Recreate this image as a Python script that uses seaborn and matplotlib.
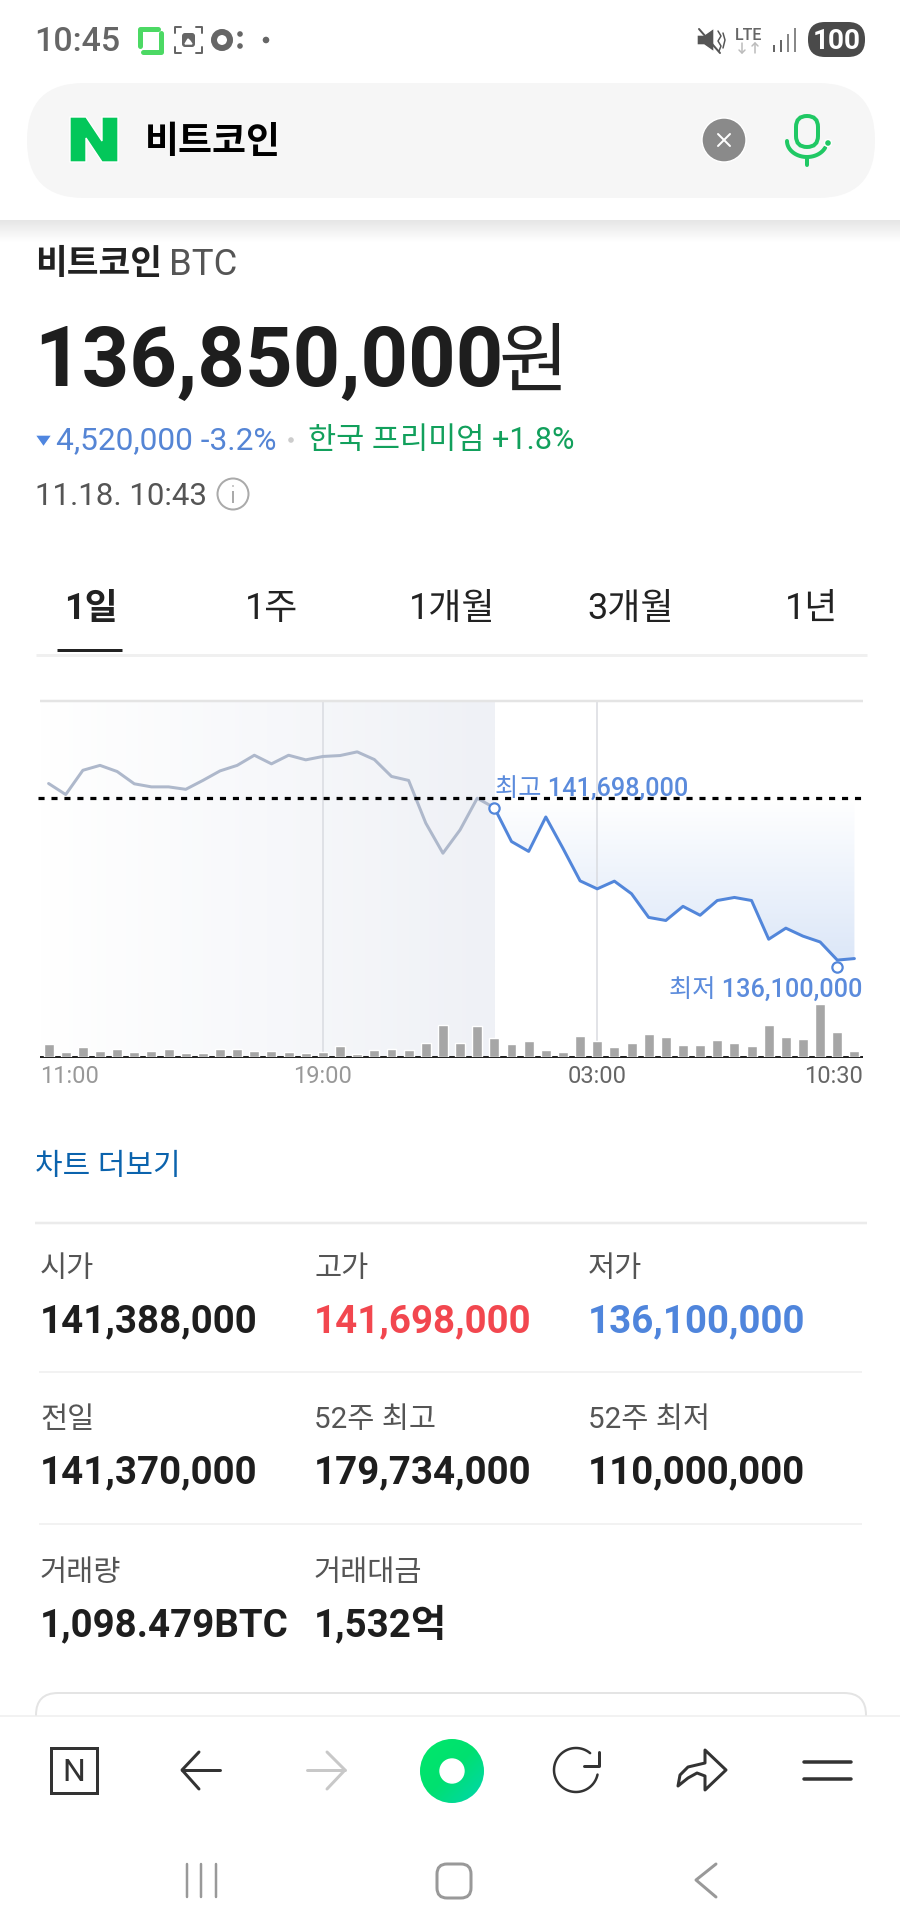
import matplotlib
matplotlib.use("Agg")
import matplotlib.pyplot as plt
from matplotlib.colors import LinearSegmentedColormap
from matplotlib.patches import Circle, FancyBboxPatch, Polygon
import numpy as np
import seaborn as sns

# price in million won, one point every 30 minutes from 11:00 to 10:30
price_prev = [141.85, 141.49, 142.28, 142.44, 142.24, 141.84, 141.74, 141.74, 141.66,
              141.95, 142.26, 142.44, 142.77, 142.49, 142.77, 142.62, 142.73, 142.76,
              142.88, 142.63, 142.08, 141.95, 140.56, 139.58, 140.34, 141.37, 141.06]
price_today = [141.06, 139.96, 139.64, 140.76, 139.74, 138.68, 138.42, 138.67, 138.26,
               137.49, 137.39, 137.85, 137.56, 138.04, 138.14, 138.04, 136.78, 137.14,
               136.88, 136.69, 136.10, 136.15]
# relative volume
volume = [39, 15, 29, 19, 25, 15, 19, 25, 12, 12, 25, 25, 19, 19, 15, 12, 16, 32, 9, 22,
          25, 22, 42, 97, 42, 94, 58, 39, 48, 22, 15, 64, 48, 29, 42, 68, 61, 35, 35, 51,
          42, 32, 97, 61, 55, 160, 74, 19]
prev_close = 141.37
marker_idx = [26, 46]
marker_price = [141.06, 135.86]
tick_idx = [-0.5, 16, 32, 47.5]
tick_labels = ["11:00", "19:00", "03:00", "10:30"]
tick_colors = ["#999999", "#999999", "#666666", "#666666"]

tab_labels = ["1일", "1주", "1개월", "3개월", "1년"]
tab_x = [91, 272, 452, 631, 812]

stat_labels = ["시가", "고가", "저가", "전일", "52주 최고", "52주 최저", "거래량", "거래대금"]
stat_values = ["141,388,000", "141,698,000", "136,100,000", "141,370,000", "179,734,000",
               "110,000,000", "1,098.479BTC", "1,532억"]
stat_colors = ["#1e1e1e", "#f2474f", "#4f85dc", "#1e1e1e", "#1e1e1e", "#1e1e1e", "#1e1e1e", "#1e1e1e"]

FONT = ["Roboto", "Noto Sans CJK KR", "DejaVu Sans"]
W, H = 900, 1930

sns.set_theme(style="white")
plt.rcParams["font.family"] = FONT

fig = plt.figure(figsize=(W / 100, H / 100), dpi=100, facecolor="white")

# whole page in pixel coordinates
page = fig.add_axes([0, 0, 1, 1], zorder=0)
page.set_xlim(0, W)
page.set_ylim(H, 0)
page.axis("off")


def px(v):
    return v * 0.72


def txt(x, y, s, size, color, weight="normal", ha="left", va="baseline"):
    page.text(x, y, s, fontsize=px(size), color=color, fontweight=weight, ha=ha, va=va, family=FONT)


def stroke(xs, ys, color, width=3, cap="round"):
    page.plot(xs, ys, color=color, lw=px(width), solid_capstyle=cap, solid_joinstyle="round")


def pill(x0, y0, x1, y1, r, fc="none", ec="none", lw=0, z=2):
    page.add_patch(FancyBboxPatch((x0, y0), x1 - x0, y1 - y0, boxstyle=f"round,pad=0,rounding_size={r}",
                                  fc=fc, ec=ec, lw=px(lw), zorder=z))


# status bar
txt(34, 51, "10:45", 34, "#666666", "medium")
stroke([139.5, 139.5, 158], [46, 28.5, 28.5], "#4cd964", 5)
stroke([160.5, 160.5, 143], [33, 51.5, 51.5], "#4cd964", 5)
for cx, sx in [(175, 1), (202, -1)]:
    for cy, sy in [(27, 1), (53, -1)]:
        stroke([cx + 6 * sx, cx, cx], [cy, cy, cy + 6 * sy], "#666666", 2)
pill(182, 33, 195, 47, 3, fc="#666666", z=3)
page.add_patch(Polygon([(185, 44), (188, 39), (190, 41), (192, 44)], fc="white", zorder=4))
page.add_patch(Circle((222, 40), 8, fc="none", ec="#666666", lw=px(6)))
page.add_patch(Circle((240, 34), 3.5, fc="#666666"))
page.add_patch(Circle((240, 46), 3.5, fc="#666666"))
page.add_patch(Circle((266, 40), 4, fc="#666666"))

page.add_patch(Polygon([(697, 35), (704, 35), (714, 28), (714, 52), (704, 45), (697, 45)], fc="#555555"))
stroke([699, 720], [29, 53], "#555555", 2)
stroke([718, 721, 718, 721, 719], [31, 36, 41, 46, 51], "#555555", 1.5)
stroke([723, 725, 723], [33, 40, 48], "#555555", 1.5)
txt(749, 40, "LTE", 16, "#666666", "medium", ha="center")
stroke([742, 742], [43, 53], "#bbbbbb", 1.5)
stroke([739, 742, 745], [50, 53, 50], "#bbbbbb", 1.5)
stroke([755, 755], [43, 53], "#bbbbbb", 1.5)
stroke([752, 755, 758], [46, 43, 46], "#bbbbbb", 1.5)
for bx, top, col in [(774, 45, "#666666"), (781, 40, "#666666"), (788, 34, "#888888"), (795, 28, "#888888")]:
    stroke([bx, bx], [top, 52], col, 2, cap="butt")
pill(808, 22, 865, 57, 17, fc="#4a4a4a")
txt(837, 49, "100", 28, "white", "bold", ha="center")

# search bar
pill(27, 83, 875, 198, 57, fc="#f6f6f6", z=1)
page.add_patch(Polygon([(70, 117), (86, 117), (102, 141), (102, 117), (118, 117), (118, 162),
                        (102, 162), (86, 138), (86, 162), (70, 162)], fc="#03c75a", zorder=3))
txt(145, 153, "비트코인", 37, "black", "bold")
page.add_patch(Circle((724, 140), 22, fc="#8a8a8a", zorder=3))
page.plot([718, 730], [134, 146], color="white", lw=px(2), zorder=4)
page.plot([718, 730], [146, 134], color="white", lw=px(2), zorder=4)
pill(796, 116, 818, 147, 11, ec="#20c864", lw=4, z=3)
t = np.radians(np.linspace(25, 180, 30))
page.plot(807 + 20 * np.cos(t), 141 + 16 * np.sin(t), color="#20c864", lw=px(4), solid_capstyle="round", zorder=3)
page.plot([807, 807], [157, 165], color="#20c864", lw=px(4), solid_capstyle="round", zorder=3)
page.add_patch(Circle((828, 143), 3.5, fc="#20c864", zorder=3))

# shadow under the header
shadow = LinearSegmentedColormap.from_list("shadow", ["#e6e6e6", "#ffffff"])
page.imshow(np.linspace(0, 1, 40).reshape(-1, 1), cmap=shadow, extent=(0, W, 242, 220), aspect="auto", zorder=1)
page.set_xlim(0, W)
page.set_ylim(H, 0)

# coin header
txt(35, 274, "비트코인", 34.5, "#222222", "bold")
txt(169, 275, "BTC", 36.5, "#555555")
txt(34, 386, "136,850,000", 83.2, "#1e1e1e", "bold")
txt(499, 386, "원", 76, "#222222", "medium")
page.add_patch(Polygon([(35, 435), (52, 435), (43.5, 447)], fc="#4f86e0"))
txt(56, 449, "4,520,000 -3.2%", 31.7, "#5585d5")
page.add_patch(Circle((291, 440), 3.5, fc="#cccccc"))
txt(308, 449, "한국 프리미엄 +1.8%", 30.6, "#12a05c")
txt(35, 505, "11.18. 10:43", 31.3, "#555555")
page.add_patch(Circle((233, 494), 15.5, fc="none", ec="#aaaaaa", lw=px(2)))
page.add_patch(Circle((233, 486), 1.6, fc="#aaaaaa"))
stroke([233, 233], [491, 503], "#aaaaaa", 2, cap="butt")

# period tabs
for i, (label, x) in enumerate(zip(tab_labels, tab_x)):
    txt(x, 619, label, 36, "#222222", "bold" if i == 0 else "normal", ha="center")
stroke([57, 122], [649.5, 649.5], "#222222", 3, cap="butt")
stroke([36, 867], [654.5, 654.5], "#f0f0f0", 3, cap="butt")

# chart
ax = fig.add_axes([40 / W, 1 - 1057 / H, 823 / W, 356 / H], zorder=1)
ax.patch.set_alpha(0)

idx_prev = np.arange(len(price_prev))
idx_today = np.arange(len(price_prev) - 1, len(price_prev) - 1 + len(price_today))

y_min, y_max = 132.945, 144.536
shade = LinearSegmentedColormap.from_list("shade", ["#ffffff", "#eff1f6"])
ax.imshow(np.linspace(0, 1, 256).reshape(1, -1), cmap=shade, aspect="auto",
          extent=(-0.5, idx_prev[-1], y_min, y_max), zorder=0)

poly = ax.fill_between(idx_today, price_today, prev_close, facecolor="none", edgecolor="none")
fade = LinearSegmentedColormap.from_list("fade", ["#dce7f8", "#ffffff"])
im = ax.imshow(np.linspace(1, 0, 256).reshape(-1, 1), cmap=fade, aspect="auto",
               extent=(idx_today[0], idx_today[-1], min(price_today), prev_close), zorder=1)
im.set_clip_path(poly.get_paths()[0], transform=ax.transData)

for i in tick_idx[1:3]:
    ax.axvline(i, color="#d9dbe0", lw=px(1.5), zorder=1.5)

sns.lineplot(x=idx_prev, y=price_prev, color="#aeb8cb", lw=px(3), ax=ax, zorder=2)
sns.lineplot(x=idx_today, y=price_today, color="#5286da", lw=px(3), ax=ax, zorder=3)
# runs slightly past the axes on the left, like the original
ax.plot([-0.62, 47.5], [prev_close, prev_close], color="black", lw=px(3.2), dashes=(1.9, 2.15), zorder=4, clip_on=False)
sns.scatterplot(x=marker_idx, y=marker_price, s=55, color="white", edgecolor="#5286da", linewidth=px(2.2), ax=ax, zorder=5)

label_color = "#5b8bdc"
ax.text(26.05, 141.66, "최고 141,698,000", fontsize=18.2, color=label_color, family=FONT, fontweight="medium",
        va="center", ha="left", zorder=6)
ax.text(47.45, 135.11, "최저 136,100,000", fontsize=18.2, color=label_color, family=FONT, fontweight="medium",
        va="center", ha="right", zorder=6)

ax.set_yticks([])
ax.set_xlabel("")
ax.set_ylabel("")
ax.set_ylim(y_min, y_max)
ax.set_xlim(-0.5, 47.5)
sns.despine(ax=ax, left=True, right=True, top=False, bottom=False)
for name, col, width in [("top", "#e4e4e4", 2.5), ("bottom", "#222222", 2)]:
    ax.spines[name].set_color(col)
    ax.spines[name].set_linewidth(px(width))
    ax.spines[name].set_capstyle("butt")

vol_ax = ax.twinx()
vol_ax.patch.set_alpha(0)
sns.barplot(x=np.arange(len(volume)), y=volume, native_scale=True, color="#a6a6a6", saturation=1,
            width=0.58, errorbar=None, ax=vol_ax)
vol_ax.set_ylim(0, 1068)
vol_ax.set_xlim(-0.5, 47.5)
vol_ax.set_yticks([])
vol_ax.set_ylabel("")
for s in vol_ax.spines.values():
    s.set_visible(False)
ax.set_xticks(tick_idx, tick_labels)
ax.tick_params(axis="x", length=0, pad=6, labelsize=17)
for lab, col in zip(ax.get_xticklabels(), tick_colors):
    lab.set_color(col)
ax.get_xticklabels()[0].set_ha("left")
ax.get_xticklabels()[-1].set_ha("right")

txt(35, 1175, "차트 더보기", 30, "#0b63ad")

# stats table
stroke([35, 867], [1223, 1223], "#ebebeb", 2.5, cap="butt")
stroke([39, 862], [1372, 1372], "#eeeeee", 1.5, cap="butt")
stroke([39, 862], [1524, 1524], "#eeeeee", 1.5, cap="butt")
col_x = [40, 314, 588]
row_label_y = [1277, 1428, 1581]
row_value_y = [1332, 1483, 1636]
for i, (label, value, color) in enumerate(zip(stat_labels, stat_values, stat_colors)):
    row, col = i // 3, i % 3
    txt(col_x[col], row_label_y[row], label, 29.5, "#555555")
    txt(col_x[col] - 0.5, row_value_y[row], value, 38.5, color, "bold")

# card peeking out from behind the toolbar
pill(36, 1693, 866, 1760, 22, fc="white", ec="#e4e4e4", lw=2, z=1)
page.add_patch(plt.Rectangle((0, 1716), W, H - 1716, fc="white", ec="none", zorder=1.5))
stroke([0, W], [1716, 1716], "#eeeeee", 1.5, cap="butt")

# toolbar
page.add_patch(plt.Rectangle((51, 1748), 46, 45, fc="none", ec="#333333", lw=px(3), zorder=3))
txt(74, 1781, "N", 32, "#333333", "normal", ha="center")
stroke([199, 182, 199], [1752, 1770, 1789], "#333333", 3)
stroke([182, 220], [1770, 1770], "#333333", 3)
stroke([327, 345, 327], [1752, 1770, 1789], "#c8c8c8", 3)
stroke([307, 345], [1770, 1770], "#c8c8c8", 3)

green = LinearSegmentedColormap.from_list("green", ["#00e86a", "#00e070", "#00d6b0"])
yy, xx = np.mgrid[0:1:64j, 0:1:64j]
gr = page.imshow((xx + yy) / 2, cmap=green, extent=(420, 484, 1803, 1739), aspect="auto", zorder=3)
gr.set_clip_path(Circle((452, 1771), 32, transform=page.transData))
page.add_patch(Circle((452, 1771), 12, fc="white", zorder=4))
page.set_xlim(0, W)
page.set_ylim(H, 0)

t = np.radians(np.linspace(12, 310, 60))
stroke(576 + 22 * np.cos(t), 1770 + 22 * np.sin(t), "#333333", 2.5)
stroke([599, 599, 584], [1752, 1766, 1766], "#333333", 3)

page.add_patch(Polygon([(705, 1750), (726, 1770), (705, 1790), (705, 1776), (697, 1773), (688, 1778),
                        (678, 1786), (680, 1775), (688, 1767), (705, 1763)], closed=True, fc="none",
                       ec="#333333", lw=px(3), joinstyle="round", zorder=3))
stroke([804, 851], [1762, 1762], "#333333", 3.5)
stroke([804, 851], [1779, 1779], "#333333", 3.5)

# android navigation
for x in [187, 201, 216]:
    stroke([x, x], [1864, 1897], "#999999", 2.5)
pill(437, 1864, 471, 1898, 10, ec="#999999", lw=3)
stroke([716, 696, 716], [1864, 1880, 1897], "#999999", 3)

fig.savefig("out.png", dpi=100)
